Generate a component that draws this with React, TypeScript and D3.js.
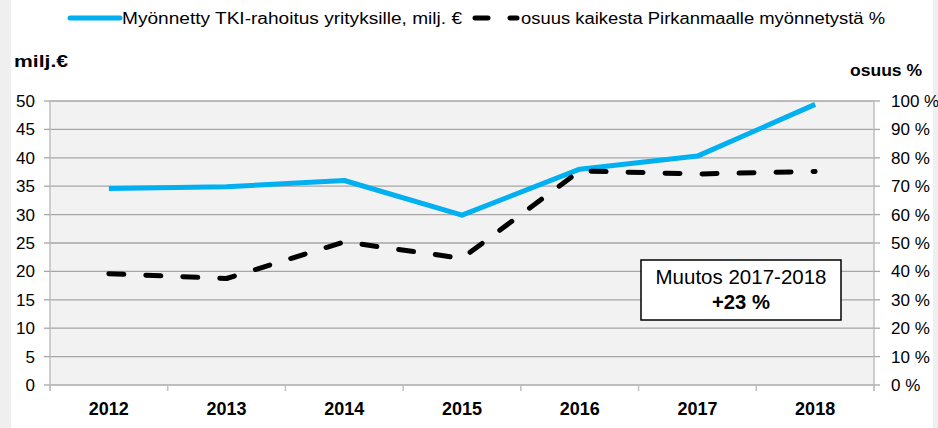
import React from "react";
import * as d3 from "d3";

const years = ["2012", "2013", "2014", "2015", "2016", "2017", "2018"];
const fundingMEur = [34.6, 34.9, 36.0, 29.9, 38.0, 40.3, 49.4];
const sharePct = [39.2, 37.5, 50.4, 44.6, 75.4, 74.3, 75.2];
const leftTicks = [0, 5, 10, 15, 20, 25, 30, 35, 40, 45, 50];
const rightTicks = [0, 10, 20, 30, 40, 50, 60, 70, 80, 90, 100];
const legendBlue = "Myönnetty TKI-rahoitus yrityksille, milj.  €";
const legendBlack = "osuus kaikesta Pirkanmaalle myönnetystä %";
const leftTitle = "milj.€";
const rightTitle = "osuus %";
const noteLine1 = "Muutos 2017-2018";
const noteLine2 = "+23 %";

const W = 938;
const H = 428;
const L = 50;
const R = 874;
const T = 101;
const B = 385;
const font = "'Liberation Sans', Arial, sans-serif";

export default function App() {
  const x = d3.scaleBand<string>().domain(years).range([L, R]);
  const yL = d3.scaleLinear().domain([0, 50]).range([B, T]);
  const yR = d3.scaleLinear().domain([0, 100]).range([B, T]);
  const cx = (d: string) => (x(d) as number) + x.bandwidth() / 2;

  const blueLine = d3
    .line<number>()
    .x((_, i) => cx(years[i]))
    .y((v) => yL(v))(fundingMEur) as string;
  const blackLine = d3
    .line<number>()
    .x((_, i) => cx(years[i]))
    .y((v) => yR(v))(sharePct) as string;

  const boundaries = d3.range(years.length + 1).map((i) => L + i * x.bandwidth());

  return (
    <svg
      width={W}
      height={H}
      style={{ position: "absolute", left: 0, top: 0, display: "block" }}
      fontFamily={font}
    >
      <rect x={0} y={0} width={W} height={H} fill="#efefef" />
      <rect x={11} y={0} width={922} height={H} fill="#ffffff" />

      {/* plot area */}
      <rect x={L} y={T} width={R - L} height={B - T} fill="#f2f2f2" />
      {leftTicks.map((t) => (
        <line key={"g" + t} x1={L} x2={R} y1={yL(t)} y2={yL(t)} stroke="#a6a6a6" strokeWidth={1.3} />
      ))}

      {/* axes */}
      <line x1={L} x2={L} y1={T} y2={B + 6} stroke="#bfbfbf" strokeWidth={1.5} />
      <line x1={R} x2={R} y1={T} y2={B + 6} stroke="#bfbfbf" strokeWidth={1.5} />
      <line x1={L} x2={R} y1={B} y2={B} stroke="#bfbfbf" strokeWidth={1.5} />
      {leftTicks.map((t) => (
        <line key={"lt" + t} x1={L - 6} x2={L} y1={yL(t)} y2={yL(t)} stroke="#a6a6a6" strokeWidth={1.3} />
      ))}
      {rightTicks.map((t) => (
        <line key={"rt" + t} x1={R} x2={R + 6} y1={yR(t)} y2={yR(t)} stroke="#a6a6a6" strokeWidth={1.3} />
      ))}
      {boundaries.map((b, i) => (
        <line key={"bt" + i} x1={b} x2={b} y1={B} y2={B + 6} stroke="#bfbfbf" strokeWidth={1.5} />
      ))}

      {/* tick labels */}
      {leftTicks.map((t) => (
        <text key={"ll" + t} x={35} y={yL(t)} dy="0.35em" textAnchor="end" fontSize={17} fill="#000">
          {t}
        </text>
      ))}
      {rightTicks.map((t) => (
        <text key={"rl" + t} x={891} y={yR(t)} dy="0.35em" textAnchor="start" fontSize={17} fill="#000">
          {t + " %"}
        </text>
      ))}
      {years.map((yr) => (
        <text key={"x" + yr} x={cx(yr)} y={415} textAnchor="middle" fontSize={18} fontWeight="bold" fill="#000">
          {yr}
        </text>
      ))}

      {/* axis titles */}
      <text x={14} y={67} fontSize={16} fontWeight="bold" fill="#000" textLength={54} lengthAdjust="spacingAndGlyphs">
        {leftTitle}
      </text>
      <text x={850} y={76} fontSize={16} fontWeight="bold" fill="#000" textLength={72} lengthAdjust="spacingAndGlyphs">
        {rightTitle}
      </text>

      {/* series */}
      <path d={blueLine} fill="none" stroke="#00b0f0" strokeWidth={5} strokeLinejoin="round" />
      <path
        d={blackLine}
        fill="none"
        stroke="#000"
        strokeWidth={5}
        strokeDasharray="15 22"
        strokeLinecap="round"
        strokeLinejoin="round"
      />

      {/* legend */}
      <line x1={70} x2={120} y1={18} y2={18} stroke="#00b0f0" strokeWidth={5} strokeLinecap="round" />
      <text x={122} y={24} fontSize={16} fill="#000" textLength={340} lengthAdjust="spacingAndGlyphs">
        {legendBlue}
      </text>
      <line x1={475} x2={488} y1={18} y2={18} stroke="#000" strokeWidth={5} strokeLinecap="round" />
      <line x1={510} x2={517} y1={18} y2={18} stroke="#000" strokeWidth={5} strokeLinecap="round" />
      <text x={521} y={24} fontSize={16} fill="#000" textLength={364} lengthAdjust="spacingAndGlyphs">
        {legendBlack}
      </text>

      {/* note box */}
      <rect x={641} y={260} width={200} height={60} fill="#ffffff" stroke="#000" strokeWidth={1.5} />
      <text x={741} y={284} textAnchor="middle" fontSize={20} fill="#000" textLength={171} lengthAdjust="spacingAndGlyphs">
        {noteLine1}
      </text>
      <text x={741} y={309} textAnchor="middle" fontSize={20} fontWeight="bold" fill="#000" textLength={58} lengthAdjust="spacingAndGlyphs">
        {noteLine2}
      </text>
    </svg>
  );
}
